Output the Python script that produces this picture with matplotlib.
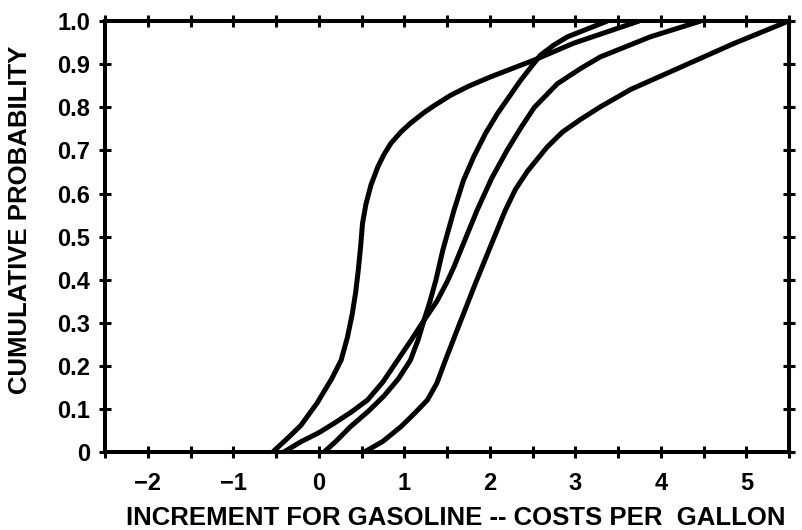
import numpy as np
import matplotlib
matplotlib.use("Agg")
import matplotlib.pyplot as plt
from matplotlib.ticker import MultipleLocator

plt.rcParams['font.family'] = ['Liberation Sans', 'DejaVu Sans']
plt.rcParams['font.weight'] = 'bold'

# curves (x = cost increment, y = cumulative probability)
a_x = [-0.54, -0.35, -0.21, -0.02, 0.15, 0.26, 0.335, 0.39, 0.43, 0.46, 0.49, 0.51, 0.55, 0.61,
       0.69, 0.76, 0.84, 0.96, 1.07, 1.23, 1.34, 1.54, 1.75, 2.01, 2.52, 2.98, 3.74]
a_y = [0.0, 0.035, 0.062, 0.114, 0.17, 0.213, 0.267, 0.32, 0.37, 0.42, 0.48, 0.53, 0.575, 0.62,
       0.662, 0.69, 0.716, 0.743, 0.763, 0.788, 0.803, 0.828, 0.849, 0.871, 0.91, 0.949, 1.0]

b_x = [0.06, 0.2, 0.37, 0.58, 0.76, 0.93, 1.07, 1.16, 1.23, 1.30, 1.37, 1.45, 1.58, 1.69, 1.81,
       1.95, 2.09, 2.36, 2.59, 2.75, 2.91, 3.37]
b_y = [0.0, 0.025, 0.059, 0.095, 0.13, 0.17, 0.213, 0.26, 0.306, 0.35, 0.40, 0.469, 0.561, 0.63,
       0.685, 0.74, 0.786, 0.863, 0.921, 0.945, 0.964, 1.0]

c_x = [-0.41, -0.21, 0.0, 0.18, 0.38, 0.57, 0.75, 0.92, 1.08, 1.23, 1.38, 1.50, 1.58, 1.66, 1.85,
       2.02, 2.20, 2.36, 2.52, 2.79, 3.06, 3.29, 3.88, 4.46]
c_y = [0.0, 0.024, 0.045, 0.067, 0.093, 0.121, 0.163, 0.213, 0.26, 0.306, 0.35, 0.395, 0.43, 0.469,
       0.561, 0.635, 0.70, 0.752, 0.80, 0.855, 0.89, 0.917, 0.964, 1.0]

d_x = [0.53, 0.75, 0.96, 1.12, 1.27, 1.38, 1.48, 1.65, 1.83, 1.99, 2.18, 2.30, 2.44, 2.67, 2.85,
       3.06, 3.29, 3.65, 4.07, 4.85, 5.49]
d_y = [0.0, 0.025, 0.059, 0.09, 0.121, 0.16, 0.213, 0.30, 0.391, 0.469, 0.561, 0.61, 0.652, 0.708,
       0.743, 0.772, 0.801, 0.842, 0.879, 0.948, 1.0]

x_ticks = [-2, -1, 0, 1, 2, 3, 4, 5]
y_ticks = [0, 0.1, 0.2, 0.3, 0.4, 0.5, 0.6, 0.7, 0.8, 0.9, 1.0]
y_labels = ['0', '0.1', '0.2', '0.3', '0.4', '0.5', '0.6', '0.7', '0.8', '0.9', '1.0']

fig = plt.figure(figsize=(8.02, 5.30), dpi=100)
ax = fig.add_axes([0.131, 0.147, 0.853, 0.813])

for xs, ys in [(a_x, a_y), (b_x, b_y), (c_x, c_y), (d_x, d_y)]:
    ax.plot(xs, ys, color='black', lw=3.6, solid_joinstyle='round', solid_capstyle='round')

ax.set_xlim(-2.5, 5.5)
ax.set_ylim(0, 1.0)

for s in ax.spines.values():
    s.set_linewidth(2.9)

ax.set_xticks(x_ticks)
ax.set_xticklabels([str(t).replace('-', '\u2212') for t in x_ticks])
ax.xaxis.set_minor_locator(MultipleLocator(0.5))
ax.set_yticks(y_ticks)
ax.set_yticklabels(y_labels)

ax.tick_params(which='both', direction='inout', length=9, width=2.2,
               top=True, right=True, labelsize=17)
ax.tick_params(axis='x', pad=10)
ax.tick_params(axis='y', pad=6)
for lab in ax.get_xticklabels() + ax.get_yticklabels():
    lab.set_fontweight('bold')

ax.set_xlabel('INCREMENT FOR GASOLINE -- COSTS PER  GALLON', fontsize=18.5, fontweight='bold')
ax.set_ylabel('CUMULATIVE PROBABILITY', fontsize=18.5, fontweight='bold')
ax.xaxis.set_label_coords(0.512, -0.124)
ax.yaxis.set_label_coords(-0.107, 0.54)

fig.savefig('out.png', dpi=100)
